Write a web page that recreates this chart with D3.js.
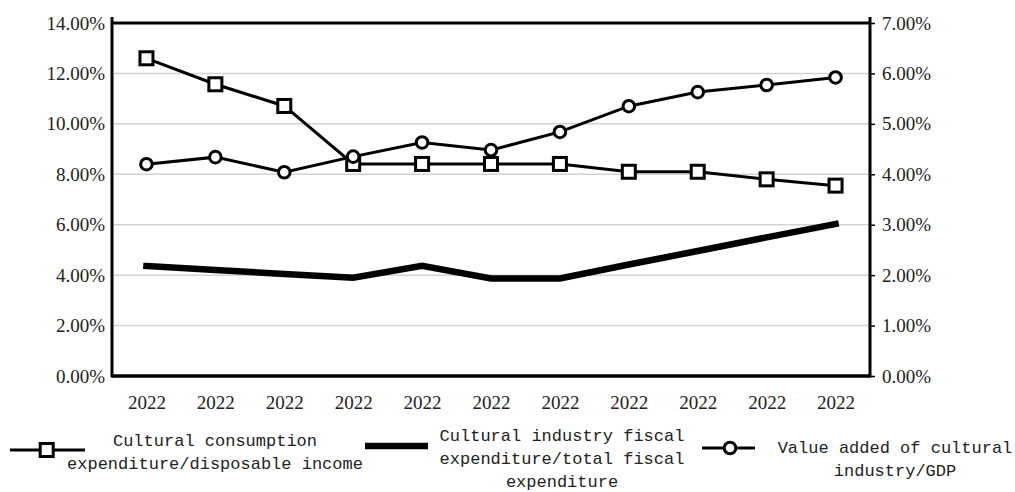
<!DOCTYPE html>
<html>
<head>
<meta charset="utf-8">
<script src="https://cdn.jsdelivr.net/npm/d3@7"></script>
<style>
    body { margin: 0; background: white; }
    .num { font-family: "Liberation Serif", "Times New Roman", serif; font-size: 19px; fill: #222; }
    .mono { font-family: "Liberation Mono", "DejaVu Sans Mono", monospace; font-size: 17px; fill: #222; }
</style>
</head>
<body>
<script>
// data
const years = ["2022", "2022", "2022", "2022", "2022", "2022", "2022", "2022", "2022", "2022", "2022"];
const consumption = [12.60, 11.57, 10.71, 8.41, 8.41, 8.41, 8.41, 8.10, 8.10, 7.80, 7.55];   // left axis, %
const fiscal = [4.36, 4.20, 4.05, 3.90, 4.37, 3.87, 3.87, 4.42, 4.96, 5.50, 6.03];           // left axis, %
const valueAdded = [4.20, 4.34, 4.04, 4.35, 4.63, 4.48, 4.84, 5.35, 5.63, 5.77, 5.92];       // right axis, %
const leftTicks = [0, 2, 4, 6, 8, 10, 12, 14];
const rightTicks = [0, 1, 2, 3, 4, 5, 6, 7];
const legendNames = [
    ["Cultural consumption", "expenditure/disposable income"],
    ["Cultural industry fiscal", "expenditure/total fiscal", "expenditure"],
    ["Value added of cultural", "industry/GDP"]
];

let width = 1015,
    height = 492;
let xMin = 112, xMax = 870, yTop = 23, yBottom = 376;

let svg = d3.select("body")
    .append("svg")
    .attr("width", width)
    .attr("height", height);

let x = d3.scalePoint()
    .domain(d3.range(years.length))
    .range([xMin, xMax])
    .padding(0.5);
let yL = d3.scaleLinear().domain([0, 14]).range([yBottom, yTop]);
let yR = d3.scaleLinear().domain([0, 7]).range([yBottom, yTop]);

const fmt = d => d.toFixed(2) + "%";

// gridlines
svg.append("g")
    .selectAll("line")
    .data(leftTicks.filter(d => d > 0 && d < 14))
    .join("line")
    .attr("x1", xMin).attr("x2", xMax)
    .attr("y1", d => yL(d)).attr("y2", d => yL(d))
    .attr("stroke", "#d2d2d2")
    .attr("stroke-width", 1.5);

// left axis
let leftAxis = svg.append("g")
    .attr("transform", `translate(${xMin},0)`)
    .call(d3.axisLeft(yL).tickValues(leftTicks).tickFormat(fmt).tickSize(0).tickPadding(7));
leftAxis.attr("font-family", null).attr("font-size", null);
leftAxis.select(".domain").remove();
leftAxis.selectAll("text").attr("class", "num");

// right axis
let rightAxis = svg.append("g")
    .attr("transform", `translate(${xMax},0)`)
    .call(d3.axisRight(yR).tickValues(rightTicks).tickFormat(fmt).tickSize(5).tickPadding(7));
rightAxis.attr("font-family", null).attr("font-size", null);
rightAxis.select(".domain").remove();
rightAxis.selectAll("line").attr("stroke", "#000").attr("stroke-width", 1.5);
rightAxis.selectAll("text").attr("class", "num");

// x axis labels
let xAxis = svg.append("g")
    .attr("transform", `translate(0,${yBottom})`)
    .call(d3.axisBottom(x).tickFormat(i => years[i]).tickSize(0).tickPadding(20));
xAxis.attr("font-family", null).attr("font-size", null);
xAxis.select(".domain").remove();
xAxis.selectAll("text").attr("class", "num");

// frame
svg.append("line").attr("x1", xMin).attr("x2", xMax).attr("y1", yTop).attr("y2", yTop)
    .attr("stroke", "#000").attr("stroke-width", 3);
svg.append("line").attr("x1", xMin).attr("x2", xMax).attr("y1", yBottom).attr("y2", yBottom)
    .attr("stroke", "#000").attr("stroke-width", 3.5);
svg.append("line").attr("x1", xMin).attr("x2", xMin).attr("y1", yTop - 6).attr("y2", yBottom + 1.5)
    .attr("stroke", "#000").attr("stroke-width", 3);
svg.append("line").attr("x1", xMax).attr("x2", xMax).attr("y1", yTop - 6).attr("y2", yBottom + 1.5)
    .attr("stroke", "#000").attr("stroke-width", 3);

// series
let lineL = d3.line().x((d, i) => x(i)).y(d => yL(d));
let lineR = d3.line().x((d, i) => x(i)).y(d => yR(d));

svg.append("path")
    .attr("d", lineL(fiscal))
    .attr("fill", "none")
    .attr("stroke", "#000")
    .attr("stroke-width", 6.5)
    .attr("stroke-linecap", "square");

svg.append("path")
    .attr("d", lineL(consumption))
    .attr("fill", "none")
    .attr("stroke", "#000")
    .attr("stroke-width", 3);

svg.append("path")
    .attr("d", lineR(valueAdded))
    .attr("fill", "none")
    .attr("stroke", "#000")
    .attr("stroke-width", 3);

const sq = 13;
svg.append("g")
    .selectAll("rect")
    .data(consumption)
    .join("rect")
    .attr("x", (d, i) => x(i) - sq / 2)
    .attr("y", d => yL(d) - sq / 2)
    .attr("width", sq)
    .attr("height", sq)
    .attr("fill", "white")
    .attr("stroke", "#000")
    .attr("stroke-width", 3);

svg.append("g")
    .selectAll("circle")
    .data(valueAdded)
    .join("circle")
    .attr("cx", (d, i) => x(i))
    .attr("cy", d => yR(d))
    .attr("r", 5.8)
    .attr("fill", "white")
    .attr("stroke", "#000")
    .attr("stroke-width", 3);

// legend
let legend = svg.append("g");
// entry 1
legend.append("line").attr("x1", 10).attr("x2", 85).attr("y1", 450).attr("y2", 450)
    .attr("stroke", "#000").attr("stroke-width", 3);
legend.append("rect").attr("x", 46.7 - sq / 2).attr("y", 450 - sq / 2).attr("width", sq).attr("height", sq)
    .attr("fill", "white").attr("stroke", "#000").attr("stroke-width", 3);
// entry 2
legend.append("line").attr("x1", 365).attr("x2", 428).attr("y1", 446).attr("y2", 446)
    .attr("stroke", "#000").attr("stroke-width", 6.5);
// entry 3
legend.append("line").attr("x1", 702).attr("x2", 755).attr("y1", 448).attr("y2", 448)
    .attr("stroke", "#000").attr("stroke-width", 3);
legend.append("circle").attr("cx", 730).attr("cy", 448).attr("r", 5.8)
    .attr("fill", "white").attr("stroke", "#000").attr("stroke-width", 3);

const legendText = [
    { cx: 215, y0: 446 },
    { cx: 562, y0: 441 },
    { cx: 895, y0: 453 }
];
legendNames.forEach((lines, k) => {
    legend.append("g")
        .selectAll("text")
        .data(lines)
        .join("text")
        .attr("class", "mono")
        .attr("x", legendText[k].cx)
        .attr("y", (d, i) => legendText[k].y0 + i * 23)
        .attr("text-anchor", "middle")
        .text(d => d);
});
</script>
</body>
</html>
